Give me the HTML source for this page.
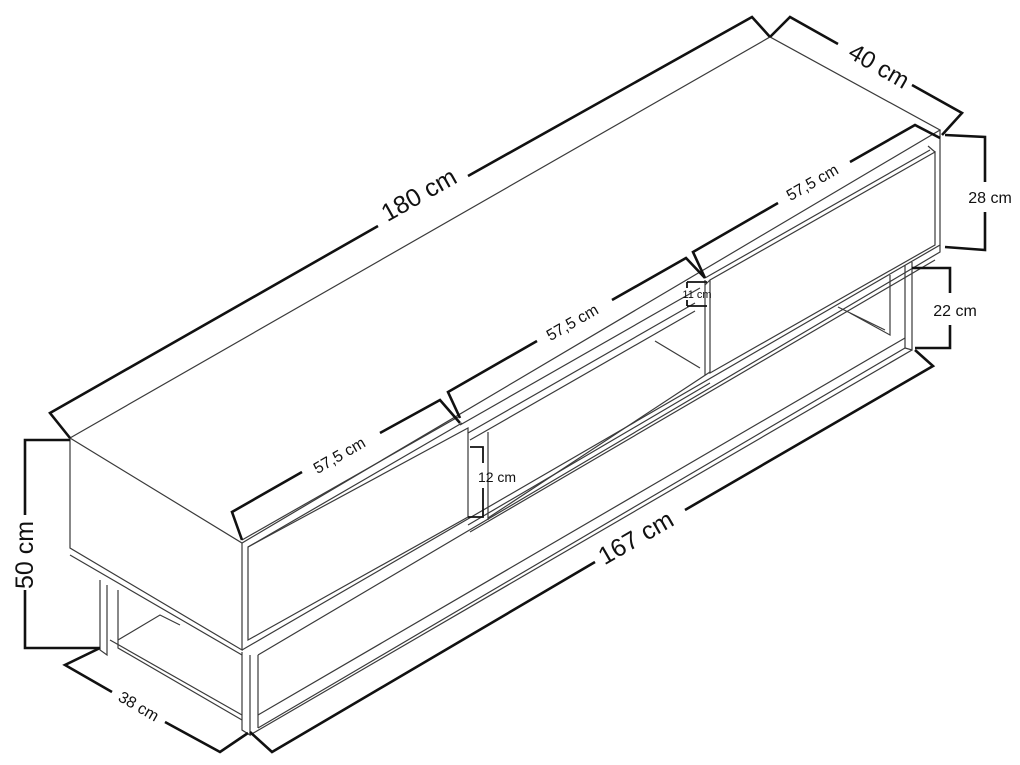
<!DOCTYPE html>
<html><head><style>html,body{margin:0;padding:0;background:#fff;}svg{display:block}</style></head>
<body>
<svg width="1020" height="765" viewBox="0 0 1020 765" xmlns="http://www.w3.org/2000/svg" font-family="Liberation Sans, DejaVu Sans, sans-serif">
<g fill="none" stroke="#3a3a3a" stroke-width="1.2">
<!-- top surface -->
<path d="M70,438 L770,37 L940,130 L242,543 Z"/>
<path d="M70,438 L70,548 L242,650 L242,543"/>
<path d="M70,555 L242,655"/>
<path d="M940,130 L940,245 L242,650"/>
<path d="M940,245 L940,252 L258,655"/>
<!-- left drawer -->
<path d="M248,547 L248,640 L468,517 L468,428 Z"/>
<path d="M248,547 L462,423"/>
<path d="M242,540 L458,417"/>
<!-- right drawer -->
<path d="M710,280 L710,373 L935,245 L935,152 Z"/>
<path d="M705,278 L930,150"/>
<path d="M705,285 L710,280"/>
<path d="M928,146 L935,152"/>
<!-- middle compartment -->
<path d="M460,425 L700,288"/>
<path d="M468,433 L695,303"/>
<path d="M470,440 L695,311"/>
<path d="M488,518 L710,372"/>
<path d="M488,520 L488,432"/>
<path d="M705,280 L705,375"/>
<path d="M655,341 L700,368"/>
<path d="M468,525 L710,383"/>
<path d="M470,532 L935,260"/>
<!-- lower frame -->
<path d="M100,580 L100,650 L107,655 L107,585"/>
<path d="M118,590 L118,648 L242,720"/>
<path d="M110,640 L242,715"/>
<path d="M118,640 L160,615 L180,625"/>
<path d="M242,652 L242,730 L250,735 L250,655"/>
<path d="M258,655 L258,728"/>
<path d="M250,735 L912,350"/>
<path d="M258,728 L905,348"/>
<path d="M258,715 L905,338"/>
<path d="M905,265 L905,348 L912,350 L912,262"/>
<path d="M890,275 L890,335 L850,313"/>
<path d="M838,307 L885,330"/>
</g>
<g fill="none" stroke="#111" stroke-width="2.6" stroke-linejoin="miter">
<path d="M70,438 L50,413 L378,226"/><path d="M468,176 L752,17 L770,37"/>
<path d="M770,37 L790,17 L838,44"/><path d="M912,85 L962,113 L942,135"/>
<path d="M945,135 L985,137 L985,182"/><path d="M985,212 L985,250 L945,247"/>
<path d="M912,268 L950,268 L950,293"/><path d="M950,325 L950,348 L915,348"/>
<path d="M915,350 L933,366 L685,510"/><path d="M595,562 L272,752 L250,732"/>
<path d="M100,648 L65,665 L112,692"/><path d="M165,722 L220,752 L248,733"/>
<path d="M100,648 L25,648 L25,590"/><path d="M25,515 L25,440 L70,440"/>
<path d="M242,540 L232,512 L302,472"/><path d="M380,433 L440,400 L460,423"/>
<path d="M460,418 L448,392 L537,341"/><path d="M612,300 L686,258 L705,278"/>
<path d="M705,278 L693,252 L778,203"/><path d="M850,162 L915,125 L940,138"/>
</g>
<g fill="none" stroke="#111" stroke-width="1.8">
<path d="M470,447 L483,447 L483,463"/><path d="M483,488 L483,517 L468,517"/>
<path d="M687,282 L707,282"/><path d="M687,306 L707,306"/><path d="M687,282 L687,288"/><path d="M687,300 L687,306"/>
</g>
<g fill="#111">
<text x="423" y="202" font-size="25" text-anchor="middle" transform="rotate(-29.5 423 202)">180 cm</text>
<text x="875" y="73" font-size="24" text-anchor="middle" transform="rotate(30 875 73)">40 cm</text>
<text x="990" y="203" font-size="16" text-anchor="middle">28 cm</text>
<text x="955" y="316" font-size="16" text-anchor="middle">22 cm</text>
<text x="497" y="482" font-size="14" text-anchor="middle">12 cm</text>
<text x="697" y="298" font-size="11" text-anchor="middle">11 cm</text>
<text x="815" y="187" font-size="16" text-anchor="middle" transform="rotate(-30 815 187)">57,5 cm</text>
<text x="575" y="327" font-size="16" text-anchor="middle" transform="rotate(-30 575 327)">57,5 cm</text>
<text x="342" y="460" font-size="16" text-anchor="middle" transform="rotate(-30 342 460)">57,5 cm</text>
<text x="640" y="545" font-size="25" text-anchor="middle" transform="rotate(-30 640 545)">167 cm</text>
<text x="33" y="555" font-size="25" text-anchor="middle" transform="rotate(-90 33 555)">50 cm</text>
<text x="136" y="711" font-size="16" text-anchor="middle" transform="rotate(30 136 711)">38 cm</text>
</g>
</svg>
</body></html>
